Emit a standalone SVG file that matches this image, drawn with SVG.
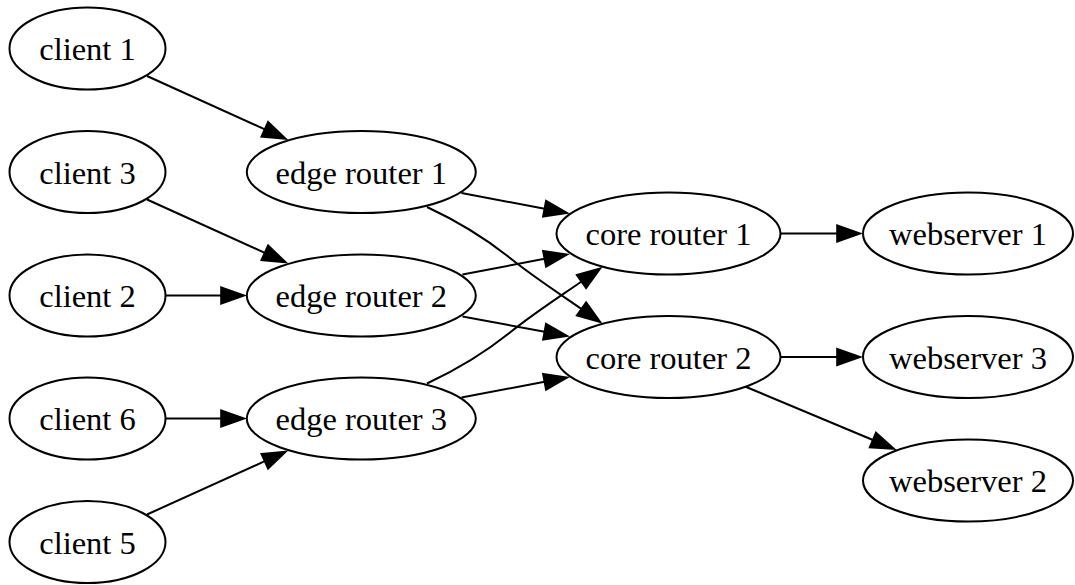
<svg xmlns="http://www.w3.org/2000/svg" width="1075" height="585" viewBox="0 0 1075 585">
<style>
.n ellipse{fill:#fff;stroke:#000;stroke-width:2}
.n text{font-family:"Liberation Serif","Times New Roman",serif;font-size:32.5px;text-anchor:middle;fill:#000}
.e path{fill:none;stroke:#000;stroke-width:2;marker-end:url(#a)}
</style>
<defs>
<marker id="a" markerUnits="userSpaceOnUse" markerWidth="40" markerHeight="30" viewBox="-3 -12 40 24" refX="0" refY="0" orient="auto">
<path d="M0,-8 L22.8,0 L0,8 z" fill="#000" stroke="#000" stroke-width="2"/>
</marker>
</defs>
<rect width="1075" height="585" fill="#fff"/>
<g id="edges" class="e">
<path d="M147,76 L264.8,129.3"/>
<path d="M147,199.5 L264.8,252.8"/>
<path d="M147,514.5 L264.8,461.2"/>
<path d="M166,295.5 L221.2,295.5"/>
<path d="M166,418.5 L221.2,418.5"/>
<path d="M461.5,193 L544.6,208.7"/>
<path d="M462.5,274.5 L544.6,258.8"/>
<path d="M462.5,316.5 L544.6,331.7"/>
<path d="M461.5,397.5 L544.6,381.8"/>
<path d="M427,207 C455,220 485,238 510,258 C535,278 563,296 581.5,309"/>
<path d="M427,383.5 C455,370.5 485,352.5 510,332.5 C535,312.5 563,294.5 581.5,281.5"/>
<path d="M781,233.5 L837.2,233.5"/>
<path d="M781,357 L837.2,357"/>
<path d="M745,386.5 L872.9,440"/>
</g>
<g id="client1" class="n"><ellipse cx="87.5" cy="48.5" rx="78" ry="41"/><text x="87.5" y="60">client 1</text></g>
<g id="client3" class="n"><ellipse cx="87.5" cy="172" rx="78" ry="41"/><text x="87.5" y="183.5">client 3</text></g>
<g id="client2" class="n"><ellipse cx="87.5" cy="295.5" rx="78" ry="41"/><text x="87.5" y="307">client 2</text></g>
<g id="client6" class="n"><ellipse cx="87.5" cy="418.5" rx="78" ry="41"/><text x="87.5" y="430">client 6</text></g>
<g id="client5" class="n"><ellipse cx="87.5" cy="542" rx="78" ry="41"/><text x="87.5" y="553.5">client 5</text></g>
<g id="edge_router1" class="n"><ellipse cx="361.3" cy="172" rx="114.5" ry="41"/><text x="361.3" y="183.5">edge router 1</text></g>
<g id="edge_router2" class="n"><ellipse cx="361.3" cy="295.5" rx="114.5" ry="41"/><text x="361.3" y="307">edge router 2</text></g>
<g id="edge_router3" class="n"><ellipse cx="361.3" cy="418.5" rx="114.5" ry="41"/><text x="361.3" y="430">edge router 3</text></g>
<g id="core_router1" class="n"><ellipse cx="668.5" cy="233.5" rx="112" ry="41"/><text x="668.5" y="245">core router 1</text></g>
<g id="core_router2" class="n"><ellipse cx="668.5" cy="357" rx="112" ry="41"/><text x="668.5" y="368.5">core router 2</text></g>
<g id="webserver1" class="n"><ellipse cx="968" cy="233.5" rx="105" ry="41"/><text x="968" y="245">webserver 1</text></g>
<g id="webserver3" class="n"><ellipse cx="968" cy="357" rx="105" ry="41"/><text x="968" y="368.5">webserver 3</text></g>
<g id="webserver2" class="n"><ellipse cx="968" cy="480.5" rx="105" ry="41"/><text x="968" y="492">webserver 2</text></g>
</svg>
